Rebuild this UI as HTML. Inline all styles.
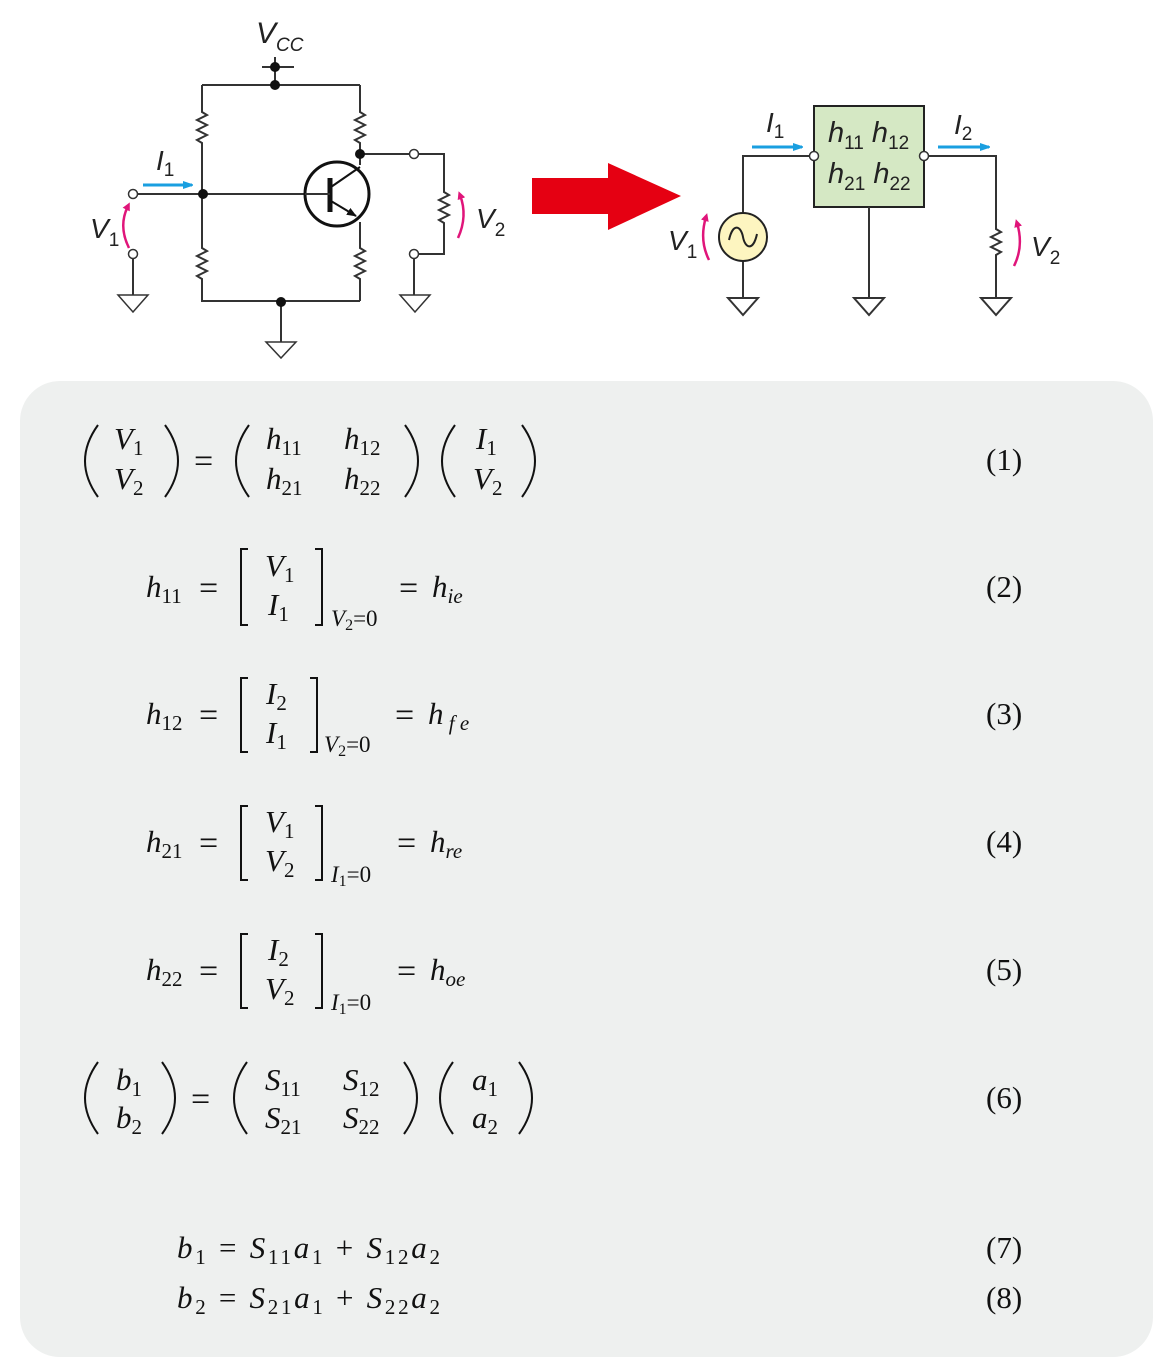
<!DOCTYPE html>
<html><head><meta charset="utf-8"><style>
html,body{margin:0;padding:0;background:#fff}
svg{display:block}
.w{stroke:#333;stroke-width:2;fill:none}
.s{font-family:"Liberation Sans",sans-serif;font-style:italic;fill:#222}
.s .u{font-style:normal}
.m{font-family:"Liberation Serif",serif;font-size:31px;fill:#111}
.m .i{font-style:italic}
.sb{font-size:21px}
</style></head><body>
<svg width="1174" height="1367" viewBox="0 0 1174 1367" xmlns="http://www.w3.org/2000/svg">
<defs>
<marker id="ab" markerWidth="10" markerHeight="8" refX="9" refY="4" orient="auto" markerUnits="userSpaceOnUse"><path d="M0,0 L12,4 L0,8 Z" fill="#1a9fe0"/></marker>
<marker id="ap" markerWidth="8" markerHeight="8" refX="4" refY="4" orient="auto" markerUnits="userSpaceOnUse"><path d="M0,0 L8,4 L0,8 Z" fill="#e0157a"/></marker>
<marker id="ae" markerWidth="10" markerHeight="8" refX="9" refY="4" orient="auto" markerUnits="userSpaceOnUse"><path d="M0,0 L10,4 L0,8 Z" fill="#111"/></marker>
</defs>

<!-- LEFT CIRCUIT -->
<g class="w">
<path d="M262,67 H294 M275,57 V85"/>
<path d="M202,85 H360"/>
<path d="M202,85 V112 l5,3 l-10,5 l10,5 l-10,5 l10,5 l-10,5 l5,3 V248 l5,3 l-10,5 l10,5 l-10,5 l10,5 l-10,5 l5,3 V301 H360"/>
<path d="M360,85 V112 l5,3 l-10,5 l10,5 l-10,5 l10,5 l-10,5 l5,3 V165"/>
<path d="M360,222 V248 l5,3 l-10,5 l10,5 l-10,5 l10,5 l-10,5 l5,3 V301"/>
<path d="M360,154 H410 M418,154 H444 V192 l5,3 l-10,5 l10,5 l-10,5 l10,5 l-10,5 l5,3 V254 H418"/>
<path d="M414,258 V295"/>
<path d="M137,194 H305"/>
<path d="M133,258 V295"/>
<path d="M281,301 V342"/>
<path d="M118,295 H148 L133,312 Z" stroke-width="1.5"/>
<path d="M400,295 H430 L415,312 Z" stroke-width="1.5"/>
<path d="M266,342 H296 L281,358 Z" stroke-width="1.5"/>
<circle cx="337" cy="194" r="32" stroke="#111" stroke-width="3"/>
<path d="M330,178 V212" stroke="#111" stroke-width="5"/>
<path d="M305,194 H330"/>
<path d="M331,187 L360,167" stroke="#111"/>
<path d="M331,201 L356,216" stroke="#111" marker-end="url(#ae)"/>
</g>
<g fill="#111"><circle cx="275" cy="67" r="5"/><circle cx="275" cy="85" r="5"/><circle cx="203" cy="194" r="5"/><circle cx="360" cy="154" r="5"/><circle cx="281" cy="302" r="5"/></g>
<g fill="#fff" stroke="#333" stroke-width="1.5"><circle cx="133" cy="194" r="4.5"/><circle cx="133" cy="254" r="4.5"/><circle cx="414" cy="154" r="4.5"/><circle cx="414" cy="254" r="4.5"/></g>
<path d="M143,185 H192" stroke="#1a9fe0" stroke-width="3" marker-end="url(#ab)"/>
<path d="M129,248 Q118,226 128,206" stroke="#e0157a" stroke-width="2.5" fill="none" marker-end="url(#ap)"/>
<path d="M458,238 Q468,216 460,195" stroke="#e0157a" stroke-width="2.5" fill="none" marker-end="url(#ap)"/>
<text class="s" x="256" y="43" font-size="30">V<tspan font-size="19" dy="8">CC</tspan></text>
<text class="s" x="156" y="170" font-size="28">I<tspan class="u" font-size="19" dy="6">1</tspan></text>
<text class="s" x="90" y="238" font-size="28">V<tspan class="u" font-size="19" dy="8">1</tspan></text>
<text class="s" x="476" y="228" font-size="28">V<tspan class="u" font-size="19" dy="8">2</tspan></text>

<!-- RED ARROW -->
<path d="M532,178 H608 V163 L681,196 L608,230 V214 H532 Z" fill="#e50012"/>

<!-- RIGHT CIRCUIT -->
<rect x="814" y="106" width="110" height="101" fill="#d5e8c4" stroke="#222" stroke-width="2"/>
<g class="w" stroke-width="1.5">
<path d="M810,156 H743 V213 M743,261 V298"/>
<path d="M869,207 V298"/>
<path d="M928,156 H996 V229 l5,3 l-10,5 l10,5 l-10,5 l10,5 l-5,3 V298"/>
<path d="M728,298 H758 L743,315 Z"/>
<path d="M854,298 H884 L869,315 Z"/>
<path d="M981,298 H1011 L996,315 Z"/>
</g>
<circle cx="743" cy="237" r="24" fill="#fdf5c0" stroke="#222" stroke-width="2"/>
<path d="M729,240 C733,222 741,226 743,237 C745,248 753,252 757,234" fill="none" stroke="#222" stroke-width="2"/>
<g fill="#fff" stroke="#333" stroke-width="1.5"><circle cx="814" cy="156" r="4.5"/><circle cx="924" cy="156" r="4.5"/></g>
<path d="M752,147 H802" stroke="#1a9fe0" stroke-width="3" marker-end="url(#ab)"/>
<path d="M938,147 H989" stroke="#1a9fe0" stroke-width="3" marker-end="url(#ab)"/>
<path d="M709,260 Q699,240 706,217" stroke="#e0157a" stroke-width="2.5" fill="none" marker-end="url(#ap)"/>
<path d="M1014,266 Q1024,246 1017,223" stroke="#e0157a" stroke-width="2.5" fill="none" marker-end="url(#ap)"/>
<text class="s" x="766" y="132" font-size="28">I<tspan class="u" font-size="19" dy="6">1</tspan></text>
<text class="s" x="954" y="134" font-size="28">I<tspan class="u" font-size="19" dy="6">2</tspan></text>
<text class="s" x="668" y="250" font-size="28">V<tspan class="u" font-size="19" dy="8">1</tspan></text>
<text class="s" x="1031" y="256" font-size="28">V<tspan class="u" font-size="19" dy="8">2</tspan></text>
<text class="s" x="828" y="142" font-size="29">h<tspan class="u" font-size="19" dy="7">11</tspan><tspan dy="-7"> h</tspan><tspan class="u" font-size="19" dy="7">12</tspan></text>
<text class="s" x="828" y="183" font-size="29">h<tspan class="u" font-size="19" dy="7">21</tspan><tspan dy="-7"> h</tspan><tspan class="u" font-size="19" dy="7">22</tspan></text>

<!-- PANEL -->
<rect x="20" y="381" width="1133" height="976" rx="40" fill="#eef0ef"/>

<g fill="none" stroke="#111" stroke-width="2">
<path d="M98,425 Q72,461 98,497"/><path d="M165,425 Q191,461 165,497"/>
<path d="M249,425 Q223,461 249,497"/><path d="M405,425 Q431,461 405,497"/>
<path d="M455,425 Q429,461 455,497"/><path d="M522,425 Q548,461 522,497"/>
<path d="M98,1062 Q72,1098 98,1134"/><path d="M162,1062 Q188,1098 162,1134"/>
<path d="M247,1062 Q221,1098 247,1134"/><path d="M404,1062 Q430,1098 404,1134"/>
<path d="M453,1062 Q427,1098 453,1134"/><path d="M519,1062 Q545,1098 519,1134"/>
<path d="M248,549 H241 V625 H248"/><path d="M315,549 H322 V625 H315"/>
<path d="M248,678 H241 V752 H248"/><path d="M310,678 H317 V752 H310"/>
<path d="M248,806 H241 V880 H248"/><path d="M315,806 H322 V880 H315"/>
<path d="M248,934 H241 V1008 H248"/><path d="M315,934 H322 V1008 H315"/>
</g>

<g class="m">
<text x="114" y="449"><tspan class="i">V</tspan><tspan class="sb" dy="6">1</tspan></text>
<text x="114" y="489"><tspan class="i">V</tspan><tspan class="sb" dy="6">2</tspan></text>
<text x="194" y="472" font-size="34">=</text>
<text x="266" y="449"><tspan class="i">h</tspan><tspan class="sb" dy="6">11</tspan></text>
<text x="344" y="449"><tspan class="i">h</tspan><tspan class="sb" dy="6">12</tspan></text>
<text x="266" y="489"><tspan class="i">h</tspan><tspan class="sb" dy="6">21</tspan></text>
<text x="344" y="489"><tspan class="i">h</tspan><tspan class="sb" dy="6">22</tspan></text>
<text x="476" y="449"><tspan class="i">I</tspan><tspan class="sb" dy="6">1</tspan></text>
<text x="473" y="489"><tspan class="i">V</tspan><tspan class="sb" dy="6">2</tspan></text>
<text x="986" y="470">(1)</text>

<text x="146" y="597"><tspan class="i">h</tspan><tspan class="sb" dy="6">11</tspan></text>
<text x="199" y="599" font-size="34">=</text>
<text x="265" y="576"><tspan class="i">V</tspan><tspan class="sb" dy="6">1</tspan></text>
<text x="268" y="615"><tspan class="i">I</tspan><tspan class="sb" dy="6">1</tspan></text>
<text x="331" y="626" font-size="23"><tspan class="i">V</tspan><tspan font-size="16" dy="4">2</tspan><tspan dy="-4">=0</tspan></text>
<text x="399" y="599" font-size="34">=</text>
<text x="432" y="597"><tspan class="i">h</tspan><tspan class="sb i" dy="6">ie</tspan></text>
<text x="986" y="597">(2)</text>

<text x="146" y="724"><tspan class="i">h</tspan><tspan class="sb" dy="6">12</tspan></text>
<text x="199" y="726" font-size="34">=</text>
<text x="266" y="704"><tspan class="i">I</tspan><tspan class="sb" dy="6">2</tspan></text>
<text x="266" y="743"><tspan class="i">I</tspan><tspan class="sb" dy="6">1</tspan></text>
<text x="324" y="752" font-size="23"><tspan class="i">V</tspan><tspan font-size="16" dy="4">2</tspan><tspan dy="-4">=0</tspan></text>
<text x="395" y="726" font-size="34">=</text>
<text x="428" y="724"><tspan class="i">h</tspan><tspan class="sb i" dy="6"> f e</tspan></text>
<text x="986" y="724">(3)</text>

<text x="146" y="852"><tspan class="i">h</tspan><tspan class="sb" dy="6">21</tspan></text>
<text x="199" y="854" font-size="34">=</text>
<text x="265" y="832"><tspan class="i">V</tspan><tspan class="sb" dy="6">1</tspan></text>
<text x="265" y="871"><tspan class="i">V</tspan><tspan class="sb" dy="6">2</tspan></text>
<text x="331" y="882" font-size="23"><tspan class="i">I</tspan><tspan font-size="16" dy="4">1</tspan><tspan dy="-4">=0</tspan></text>
<text x="397" y="854" font-size="34">=</text>
<text x="430" y="852"><tspan class="i">h</tspan><tspan class="sb i" dy="6">re</tspan></text>
<text x="986" y="852">(4)</text>

<text x="146" y="980"><tspan class="i">h</tspan><tspan class="sb" dy="6">22</tspan></text>
<text x="199" y="982" font-size="34">=</text>
<text x="268" y="960"><tspan class="i">I</tspan><tspan class="sb" dy="6">2</tspan></text>
<text x="265" y="999"><tspan class="i">V</tspan><tspan class="sb" dy="6">2</tspan></text>
<text x="331" y="1010" font-size="23"><tspan class="i">I</tspan><tspan font-size="16" dy="4">1</tspan><tspan dy="-4">=0</tspan></text>
<text x="397" y="982" font-size="34">=</text>
<text x="430" y="980"><tspan class="i">h</tspan><tspan class="sb i" dy="6">oe</tspan></text>
<text x="986" y="980">(5)</text>

<text x="116" y="1090"><tspan class="i">b</tspan><tspan class="sb" dy="6">1</tspan></text>
<text x="116" y="1128"><tspan class="i">b</tspan><tspan class="sb" dy="6">2</tspan></text>
<text x="191" y="1110" font-size="34">=</text>
<text x="265" y="1090"><tspan class="i">S</tspan><tspan class="sb" dy="6">11</tspan></text>
<text x="343" y="1090"><tspan class="i">S</tspan><tspan class="sb" dy="6">12</tspan></text>
<text x="265" y="1128"><tspan class="i">S</tspan><tspan class="sb" dy="6">21</tspan></text>
<text x="343" y="1128"><tspan class="i">S</tspan><tspan class="sb" dy="6">22</tspan></text>
<text x="472" y="1090"><tspan class="i">a</tspan><tspan class="sb" dy="6">1</tspan></text>
<text x="472" y="1128"><tspan class="i">a</tspan><tspan class="sb" dy="6">2</tspan></text>
<text x="986" y="1108">(6)</text>

<text x="177" y="1258" textLength="263" lengthAdjust="spacing"><tspan class="i">b</tspan><tspan class="sb" dy="6">1</tspan><tspan dy="-6"> = </tspan><tspan class="i">S</tspan><tspan class="sb" dy="6">11</tspan><tspan class="i" dy="-6">a</tspan><tspan class="sb" dy="6">1</tspan><tspan dy="-6"> + </tspan><tspan class="i">S</tspan><tspan class="sb" dy="6">12</tspan><tspan class="i" dy="-6">a</tspan><tspan class="sb" dy="6">2</tspan></text>
<text x="986" y="1258">(7)</text>
<text x="177" y="1308" textLength="263" lengthAdjust="spacing"><tspan class="i">b</tspan><tspan class="sb" dy="6">2</tspan><tspan dy="-6"> = </tspan><tspan class="i">S</tspan><tspan class="sb" dy="6">21</tspan><tspan class="i" dy="-6">a</tspan><tspan class="sb" dy="6">1</tspan><tspan dy="-6"> + </tspan><tspan class="i">S</tspan><tspan class="sb" dy="6">22</tspan><tspan class="i" dy="-6">a</tspan><tspan class="sb" dy="6">2</tspan></text>
<text x="986" y="1308">(8)</text>
</g>
</svg>
</body></html>
